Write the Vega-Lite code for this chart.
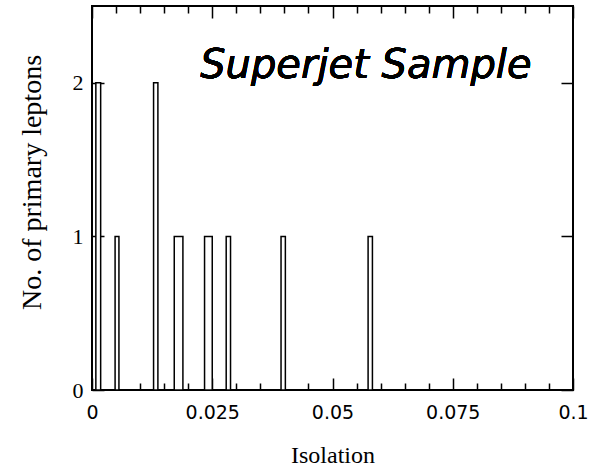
{
  "$schema": "https://vega.github.io/schema/vega-lite/v6.json",
  "autosize": "none",
  "width": 481,
  "height": 384,
  "padding": {"left": 92, "top": 6, "right": 20, "bottom": 82},
  "background": "white",
  "config": {
    "view": {"stroke": "black", "strokeWidth": 2},
    "axis": {"domain": false, "ticks": false, "labelColor": "black", "titleColor": "black", "gridColor": "black", "gridOpacity": 1, "gridWidth": 1.5, "zindex": 1}
  },
  "data": {"values": [
    {"start": 0.0008, "end": 0.0018, "count": 2},
    {"start": 0.0048, "end": 0.0056, "count": 1},
    {"start": 0.0128, "end": 0.0137, "count": 2},
    {"start": 0.0171, "end": 0.0189, "count": 1},
    {"start": 0.0234, "end": 0.0250, "count": 1},
    {"start": 0.0279, "end": 0.0288, "count": 1},
    {"start": 0.0393, "end": 0.0402, "count": 1},
    {"start": 0.0574, "end": 0.0583, "count": 1}
  ]},
  "layer": [
    {
      "mark": {"type": "bar", "fill": "white", "stroke": "black", "strokeWidth": 1.5},
      "encoding": {
        "x": {"field": "start", "type": "quantitative",
          "scale": {"domain": [0, 0.1], "nice": false, "zero": false},
          "axis": {"orient": "bottom", "title": "Isolation", "grid": true,
            "values": [0,0.005,0.01,0.015,0.02,0.025,0.03,0.035,0.04,0.045,0.05,0.055,0.06,0.065,0.07,0.075,0.08,0.085,0.09,0.095,0.1],
            "labelExpr": "abs(datum.value*40 - round(datum.value*40)) < 0.001 ? format(datum.value, '.3~g') : ''",
            "gridDash": {"condition": [
              {"test": "abs(datum.value*40 - round(datum.value*40)) < 0.001", "value": [12, 360, 12, 0]},
              {"test": "abs(datum.value*40 - round(datum.value*40)) >= 0.001", "value": [7, 370, 7, 0]}
            ], "value": [7, 370, 7, 0]},
            "labelPadding": 13, "labelFont": "DejaVu Sans", "labelFontSize": 19, "labelFlush": false,
            "titleFont": "Liberation Serif", "titleFontSize": 24, "titleFontWeight": "normal",
            "titleX": 240.5, "titleY": 72, "titleBaseline": "alphabetic", "titleAlign": "center"}},
        "x2": {"field": "end"},
        "y": {"field": "count", "type": "quantitative",
          "scale": {"domain": [0, 2.5], "nice": false},
          "axis": {"orient": "left", "title": "No. of primary leptons", "grid": true,
            "values": [0, 1, 2], "format": "d", "gridDash": [12, 457, 12, 0], "labelPadding": 9,
            "labelFont": "Liberation Serif", "labelFontSize": 22,
            "titleFont": "Liberation Serif", "titleFontSize": 28, "titleFontWeight": "normal",
            "titleAngle": 270, "titleX": -60, "titleY": 176, "titleAlign": "center", "titleBaseline": "middle"}},
        "y2": {"datum": 0}
      }
    },
    {
      "mark": {"type": "text", "text": "Superjet Sample", "font": "DejaVu Sans", "fontStyle": "italic", "fontSize": 40, "align": "left", "baseline": "alphabetic", "color": "black"},
      "encoding": {
        "x": {"datum": 0.0225, "type": "quantitative", "axis": null},
        "y": {"datum": 2.03, "type": "quantitative", "axis": null}
      }
    }
  ],
  "resolve": {"axis": {"x": "independent", "y": "independent"}}
}
